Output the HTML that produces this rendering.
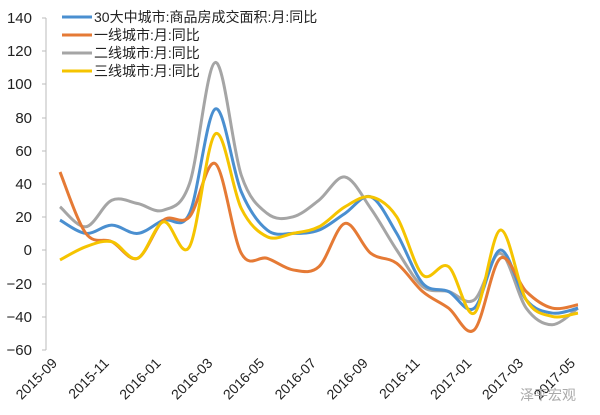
<!DOCTYPE html>
<html><head><meta charset="utf-8"><style>
body{margin:0;background:#fff;}
svg{display:block;font-family:"Liberation Sans","Noto Sans CJK SC",sans-serif;}
</style></head><body>
<svg id="c" width="600" height="415" viewBox="0 0 600 415">
<g font-size="15" fill="#222" text-anchor="end">
<text x="32" y="23">140</text><text x="32" y="56">120</text><text x="32" y="89">100</text>
<text x="32" y="123">80</text><text x="32" y="156">60</text><text x="32" y="189">40</text>
<text x="32" y="222">20</text><text x="32" y="255">0</text><text x="32" y="289">−20</text>
<text x="32" y="322">−40</text><text x="32" y="355">−60</text>
</g>
<line x1="46" y1="18" x2="46" y2="350" stroke="#bbb"/>
<g stroke="#bbb"><line x1="42" y1="18" x2="46" y2="18"/><line x1="42" y1="51" x2="46" y2="51"/><line x1="42" y1="84" x2="46" y2="84"/><line x1="42" y1="118" x2="46" y2="118"/><line x1="42" y1="151" x2="46" y2="151"/><line x1="42" y1="184" x2="46" y2="184"/><line x1="42" y1="217" x2="46" y2="217"/><line x1="42" y1="250" x2="46" y2="250"/><line x1="42" y1="284" x2="46" y2="284"/><line x1="42" y1="317" x2="46" y2="317"/><line x1="42" y1="350" x2="46" y2="350"/></g>
<g id="xl" font-size="14" fill="#222" text-anchor="end"></g>
<g id="lines" fill="none" stroke-width="3"></g>
<g font-size="14" fill="#222">
<line x1="62" y1="17" x2="92" y2="17" stroke="#4a8fd0" stroke-width="3"/><text x="94" y="22">30大中城市:商品房成交面积:月:同比</text>
<line x1="62" y1="35" x2="92" y2="35" stroke="#e57a35" stroke-width="3"/><text x="94" y="40">一线城市:月:同比</text>
<line x1="62" y1="53" x2="92" y2="53" stroke="#a5a5a5" stroke-width="3"/><text x="94" y="58">二线城市:月:同比</text>
<line x1="62" y1="71" x2="92" y2="71" stroke="#f5c400" stroke-width="3"/><text x="94" y="76">三线城市:月:同比</text>
</g>
<text x="520" y="400" font-size="14" fill="#aaa">泽平宏观</text>
</svg>
<script>
var X=i=>60+i*25.9, Y=v=>250-v*1.66;
var S=[
["#a5a5a5",[26,14,30,28,24,40,113,45,22,20,30,44,25,0,-22,-25,-30,-2,-35,-45,-35]],
["#4a8fd0",[18,10,15,10,18,22,85,35,12,10,12,22,32,10,-20,-25,-35,0,-30,-38,-35]],
["#e57a35",[47,10,5,-5,18,20,52,-2,-5,-12,-10,16,-2,-8,-25,-35,-48,-5,-25,-35,-33]],
["#f5c400",[-6,2,5,-5,17,2,70,25,8,10,14,26,32,20,-15,-10,-38,12,-30,-40,-38]]];
var g=document.getElementById('lines'),h='';
S.forEach(s=>{var p=s[1].map((v,i)=>[X(i),Y(v)]),d='M'+p[0];
for(var i=0;i<p.length-1;i++){var a=p[i-1]||p[i],b=p[i],c=p[i+1],e=p[i+2]||c;
d+=' C'+(b[0]+(c[0]-a[0])/6)+','+(b[1]+(c[1]-a[1])/6)+' '+(c[0]-(e[0]-b[0])/6)+','+(c[1]-(e[1]-b[1])/6)+' '+c;}
h+='<path d="'+d+'" stroke="'+s[0]+'"/>';});
g.innerHTML=h;
var L=['2015-09','2015-11','2016-01','2016-03','2016-05','2016-07','2016-09','2016-11','2017-01','2017-03','2017-05'],t='';
L.forEach((l,i)=>{var x=X(i*2)-2;t+='<text transform="translate('+x+',364) rotate(-45)">'+l+'</text>';});
document.getElementById('xl').innerHTML=t;
</script>
</body></html>
